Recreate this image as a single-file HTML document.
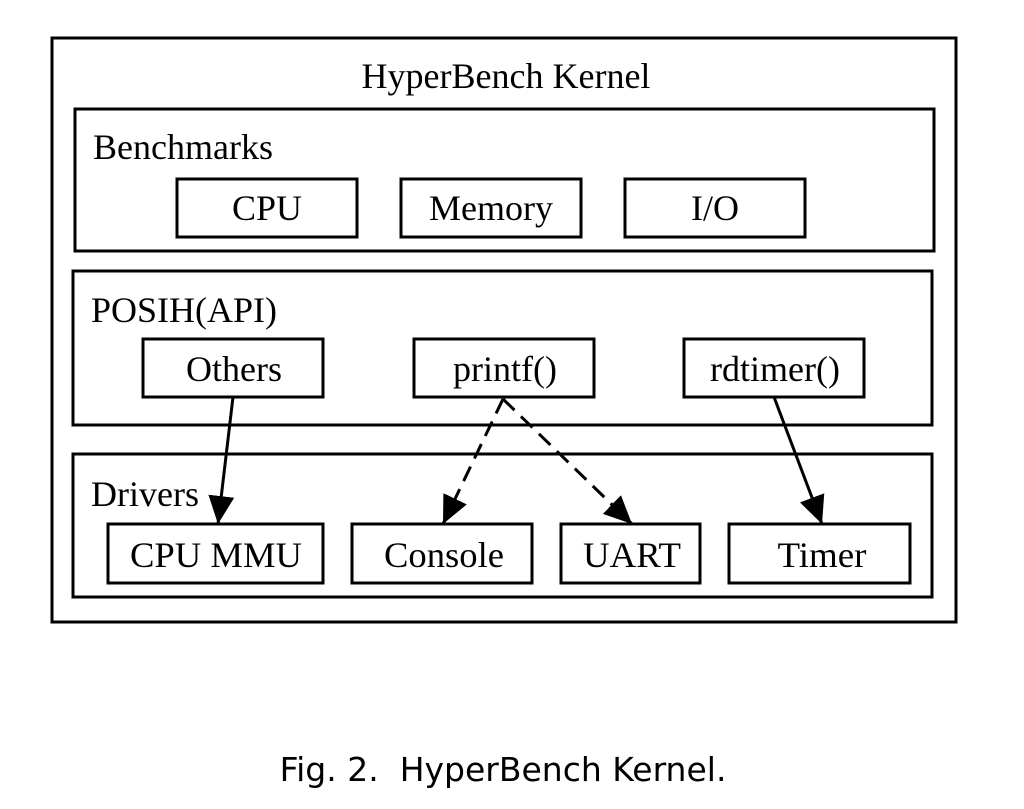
<!DOCTYPE html>
<html><head><meta charset="utf-8"><style>
html,body{margin:0;padding:0;background:#fff;width:1024px;height:809px;overflow:hidden}
</style></head><body>
<svg width="1024" height="809" xmlns="http://www.w3.org/2000/svg" font-family="Liberation Serif, serif" font-size="36" fill="none" stroke="#000" stroke-width="3">
<defs>
<marker id="h" viewBox="0 0 28 28" refX="28" refY="14" markerWidth="28" markerHeight="28" orient="auto" markerUnits="userSpaceOnUse"><path d="M0,1 L28,14 L0,27z" fill="#000" stroke="none"/></marker></defs>
<rect x="52" y="38" width="904" height="584"/>
<rect x="75" y="109" width="859" height="142"/>
<rect x="177" y="179" width="180" height="58"/>
<rect x="401" y="179" width="180" height="58"/>
<rect x="625" y="179" width="180" height="58"/>
<rect x="73" y="271" width="859" height="154"/>
<rect x="143" y="339" width="180" height="58"/>
<rect x="414" y="339" width="180" height="58"/>
<rect x="684" y="339" width="180" height="58"/>
<rect x="73" y="454" width="859" height="143"/>
<rect x="108" y="524" width="215" height="59"/>
<rect x="352" y="524" width="180" height="59"/>
<rect x="561" y="524" width="139" height="59"/>
<rect x="729" y="524" width="181" height="59"/>
<line x1="233" y1="397" x2="218" y2="524" marker-end="url(#h)"/>
<line x1="503" y1="399" x2="443" y2="524" stroke-dasharray="16,9" marker-end="url(#h)"/>
<line x1="503" y1="399" x2="632" y2="524" stroke-dasharray="16,9" marker-end="url(#h)"/>
<line x1="774" y1="397" x2="822" y2="524" marker-end="url(#h)"/>
<g fill="#000" stroke="none" text-anchor="middle">
<text x="506" y="88">HyperBench Kernel</text>
<text x="267" y="220">CPU</text>
<text x="491" y="220">Memory</text>
<text x="715" y="220">I/O</text>
<text x="234" y="381">Others</text>
<text x="505" y="381">printf()</text>
<text x="775" y="381">rdtimer()</text>
<text x="216" y="567" textLength="172" lengthAdjust="spacingAndGlyphs">CPU MMU</text>
<text x="444" y="567" textLength="120" lengthAdjust="spacingAndGlyphs">Console</text>
<text x="632" y="567" textLength="98" lengthAdjust="spacingAndGlyphs">UART</text>
<text x="822" y="567" textLength="89" lengthAdjust="spacingAndGlyphs">Timer</text>
<g text-anchor="start">
<text x="93" y="159">Benchmarks</text>
<text x="91" y="322">POSIH(API)</text>
<text x="91" y="506" textLength="108" lengthAdjust="spacingAndGlyphs">Drivers</text>
</g>
<text x="503" y="781" font-family="DejaVu Sans, Liberation Sans, sans-serif" font-size="33" xml:space="preserve">Fig. 2.  HyperBench Kernel.</text>
</g>
</svg>
</body></html>
